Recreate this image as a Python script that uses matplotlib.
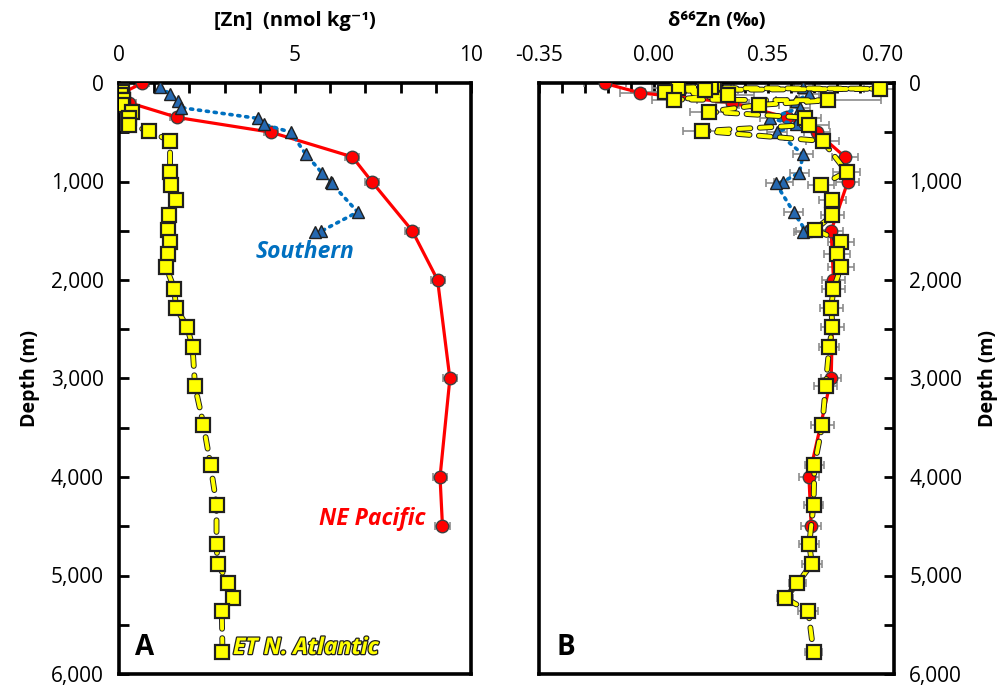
import matplotlib
matplotlib.use("Agg")
import matplotlib.pyplot as plt
import matplotlib.patheffects as pe
from matplotlib.ticker import MultipleLocator, FuncFormatter

plt.rcParams["font.family"] = ["Open Sans", "DejaVu Sans"]

# NE Pacific (red circles)
pac_depth = [5, 100, 200, 350, 500, 750, 1000, 1500, 2000, 3000, 4000, 4500]
pac_zn = [0.64, 0.1, 0.29, 1.66, 4.32, 6.63, 7.18, 8.33, 9.05, 9.40, 9.12, 9.19]
pac_d66 = [-0.148, -0.041, 0.241, 0.407, 0.499, 0.585, 0.594, 0.543, 0.550, 0.543, 0.475, 0.482]
pac_err = [0.065, 0.06, 0.05, 0.04, 0.04, 0.04, 0.035, 0.035, 0.035, 0.03, 0.03, 0.03]

# Southern (blue triangles)
sou_depth = [45, 110, 180, 250, 360, 420, 500, 725, 910, 1000, 1020, 1310, 1505, 1515]
sou_zn = [1.16, 1.45, 1.67, 1.76, 3.96, 4.13, 4.88, 5.31, 5.76, 6.02, 6.04, 6.78, 5.74, 5.57]
sou_d66 = [0.458, 0.476, 0.437, 0.448, 0.356, 0.436, 0.377, 0.457, 0.446, 0.397, 0.374, 0.428, 0.466, 0.458]

# ET N. Atlantic (yellow squares)
atl_depth = [13, 37, 50, 58, 71, 88, 122, 168, 176, 223, 291, 352, 426, 487, 589,
             900, 1040, 1190, 1340, 1490, 1610, 1740, 1870, 2090, 2280, 2480, 2680,
             3080, 3470, 3880, 4280, 4680, 4880, 5080, 5230, 5360, 5780]
atl_zn = [0.02, 0.05, 0.0, 0.03, 0.05, 0.08, 0.05, 0.1, 0.12, 0.08, 0.36, 0.29, 0.29, 0.86, 1.45,
          1.45, 1.48, 1.62, 1.43, 1.38, 1.45, 1.38, 1.34, 1.57, 1.62, 1.94, 2.09,
          2.16, 2.40, 2.60, 2.77, 2.77, 2.80, 3.11, 3.25, 2.92, 2.94]
atl_d66 = [0.186, 0.176, 0.074, 0.692, 0.157, 0.035, 0.227, 0.064, 0.534, 0.322, 0.170, 0.463, 0.476, 0.149, 0.517,
           0.590, 0.512, 0.547, 0.547, 0.494, 0.573, 0.561, 0.573, 0.550, 0.543, 0.547, 0.537,
           0.526, 0.516, 0.492, 0.489, 0.476, 0.484, 0.440, 0.402, 0.473, 0.489]
atl_err = [0.06, 0.06, 0.08, 0.05, 0.1, 0.06, 0.08, 0.07, 0.16, 0.06, 0.06, 0.05, 0.06, 0.06, 0.05,
           0.04, 0.04, 0.04, 0.035, 0.04, 0.04, 0.04, 0.04, 0.035, 0.035, 0.035, 0.03,
           0.035, 0.035, 0.03, 0.03, 0.03, 0.03, 0.025, 0.025, 0.03, 0.025]
sou_err = 0.03

RED = "#FF0000"
BLUE = "#0070C0"
TRI = "#2568B0"
YEL = "#FFFF00"
GREY = "#8C8C8C"

fig = plt.figure(figsize=(10.07, 6.86), dpi=100)
axA = fig.add_axes([119 / 1007, 12 / 686, 352 / 1007, 591 / 686])
axB = fig.add_axes([539 / 1007, 12 / 686, 355 / 1007, 591 / 686])

yel_fx = [pe.Stroke(linewidth=4.2, foreground="#202020"), pe.Normal()]


def draw(ax, xs_pac, xs_sou, xs_atl, errs):
    e_pac, e_sou, e_atl = errs
    ax.errorbar(xs_pac, pac_depth, xerr=e_pac, fmt="none", ecolor=GREY, elinewidth=1.2,
                capsize=3, capthick=1.2, zorder=2)
    if e_sou is not None:
        ax.errorbar(xs_sou, sou_depth, xerr=e_sou, fmt="none", ecolor=GREY, elinewidth=1.2,
                    capsize=3, capthick=1.2, zorder=2)
    if e_atl is not None:
        ax.errorbar(xs_atl, atl_depth, xerr=e_atl, fmt="none", ecolor=GREY, elinewidth=1.2,
                    capsize=3, capthick=1.2, zorder=2)
    ax.plot(xs_pac, pac_depth, color=RED, lw=2.3, zorder=3)
    ax.plot(xs_pac, pac_depth, ls="none", marker="o", ms=9, mfc=RED, mec="#404040",
            mew=1.0, zorder=4)
    ax.plot(xs_sou, sou_depth, color=BLUE, lw=2.6, ls=(0, (0.6, 1.6)),
            dash_capstyle="round", zorder=5)
    ax.plot(xs_sou, sou_depth, ls="none", marker="^", ms=8.5, mfc=TRI, mec="#202020",
            mew=1.0, zorder=6)
    ax.plot(xs_atl, atl_depth, color=YEL, lw=2.8, ls=(0, (3.0, 2.4)),
            dash_capstyle="round", path_effects=yel_fx, zorder=7)
    ax.plot(xs_atl, atl_depth, ls="none", marker="s", ms=9.5, mfc=YEL, mec="#202020",
            mew=1.6, zorder=8)


draw(axA, pac_zn, sou_zn, atl_zn, (0.2, None, None))
draw(axB, pac_d66, sou_d66, atl_d66, (pac_err, sou_err, atl_err))

depth_fmt = FuncFormatter(lambda v, p: f"{v:,.0f}")
for ax in (axA, axB):
    ax.set_ylim(6000, 0)
    ax.yaxis.set_major_locator(MultipleLocator(1000))
    ax.yaxis.set_minor_locator(MultipleLocator(500))
    ax.yaxis.set_major_formatter(depth_fmt)
    for s in ax.spines.values():
        s.set_linewidth(2.6)
    ax.tick_params(which="both", direction="in", width=2, length=7, labelsize=15,
                   top=True, bottom=False, labeltop=True, labelbottom=False)
    ax.tick_params(axis="x", pad=12)
    ax.tick_params(axis="y", pad=11)
    ax.xaxis.set_label_position("top")

axA.set_xlim(0, 10)
axA.xaxis.set_major_locator(MultipleLocator(5))
axA.xaxis.set_minor_locator(MultipleLocator(1))
axA.tick_params(axis="y", which="both", left=True, right=False, labelleft=True, labelright=False)
axA.set_xlabel("[Zn]  (nmol kg⁻¹)", fontsize=14.5, fontweight="bold", labelpad=14)
axA.set_ylabel("Depth (m)", fontsize=14, fontweight="bold", labelpad=8)

axB.set_xlim(-0.35, 0.735)
axB.set_xticks([-0.35, 0.0, 0.35, 0.70])
axB.set_xticklabels(["-0.35", "0.00", "0.35", "0.70"])
axB.xaxis.set_minor_locator(MultipleLocator(0.07))
axB.tick_params(axis="y", which="both", left=False, right=True, labelleft=False, labelright=True)
axB.yaxis.set_label_position("right")
axB.set_xlabel("δ⁶⁶Zn (‰)", fontsize=14.5, fontweight="bold", labelpad=14)
axB.set_ylabel("Depth (m)", fontsize=14, fontweight="bold", labelpad=11)

axA.text(5.28, 1716, "Southern", color="#0070C0", fontsize=16.5, fontweight="bold",
         fontstyle="italic", ha="center", va="center")
axA.text(7.19, 4426, "NE Pacific", color=RED, fontsize=16.5, fontweight="bold",
         fontstyle="italic", ha="center", va="center")
axA.text(3.24, 5736, "ET N. Atlantic", color=YEL, fontsize=16.5, fontweight="bold",
         fontstyle="italic", ha="left", va="center",
         path_effects=[pe.Stroke(linewidth=1.8, foreground="#202020"), pe.Normal()])
axA.text(0.045, 0.044, "A", transform=axA.transAxes, fontsize=20, fontweight="bold",
         ha="left", va="center")
axB.text(0.05, 0.044, "B", transform=axB.transAxes, fontsize=20, fontweight="bold",
         ha="left", va="center")

fig.savefig("out.png", dpi=100)
